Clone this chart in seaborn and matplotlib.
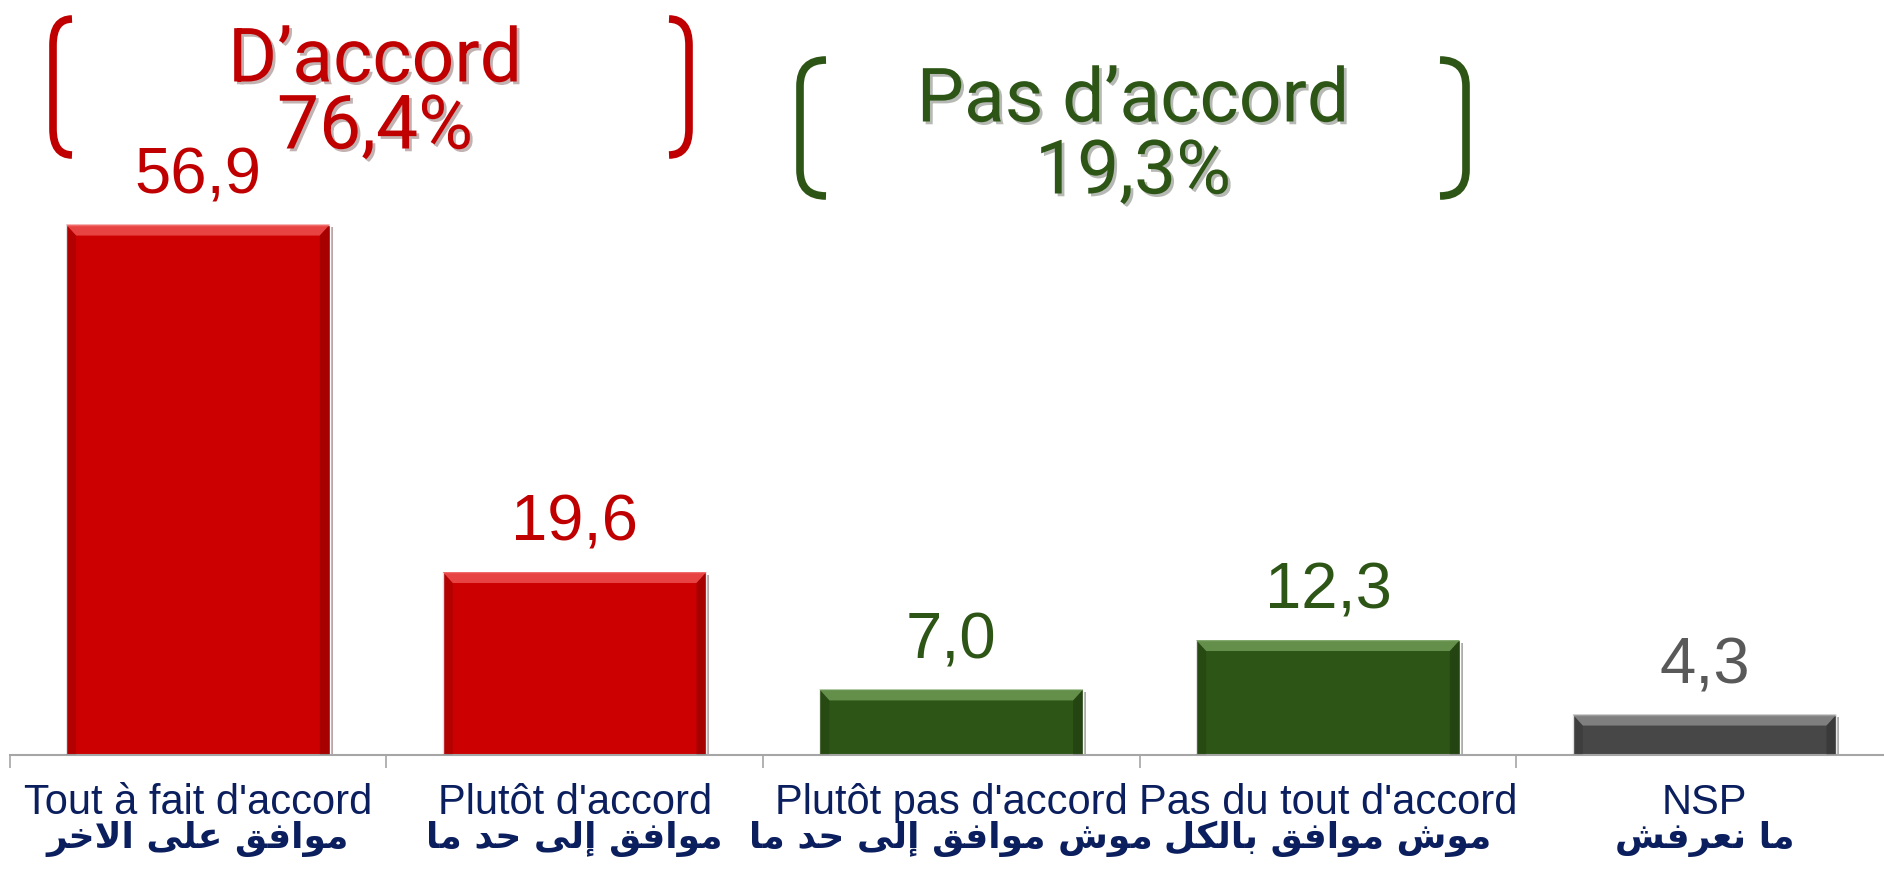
import matplotlib
matplotlib.use("Agg")
import matplotlib.pyplot as plt
import matplotlib.patheffects as pe
import matplotlib.transforms as mtransforms
from matplotlib.path import Path
from matplotlib.patches import PathPatch, Polygon
from matplotlib import font_manager
import seaborn as sns
import pandas as pd
import numpy as np

# ---- data ----
labels_fr = ["Tout à fait d'accord", "Plutôt d'accord", "Plutôt pas d'accord",
             "Pas du tout d'accord", "NSP"]
labels_ar = ["موافق على الاخر", "موافق إلى حد ما", "موش موافق إلى حد ما",
             "موش موافق بالكل", "ما نعرفش"]
values = [56.9, 19.6, 7.0, 12.3, 4.3]
value_text = ["56,9", "19,6", "7,0", "12,3", "4,3"]
groups = ["accord", "accord", "pas_accord", "pas_accord", "nsp"]
summary_titles = ["D’accord", "Pas d’accord"]
summary_values = ["76,4%", "19,3%"]

bar_colors = {"accord": "#CC0000", "pas_accord": "#2D5516", "nsp": "#474747"}
light_colors = {"accord": "#EE5050", "pas_accord": "#6E9A55", "nsp": "#8A8A8A"}
text_colors = {"accord": "#C00000", "pas_accord": "#2D5516", "nsp": "#595959"}
navy = "#0B1F5E"

available = {f.name for f in font_manager.fontManager.ttflist}
narrow = "Liberation Sans Narrow" if "Liberation Sans Narrow" in available else "Liberation Sans"

# ---- minimal arabic shaping (matplotlib draws glyphs left to right) ----
AR_FORMS = {
    'ا': ('\uFE8D', '\uFE8E', None, None),
    'إ': ('\uFE87', '\uFE88', None, None),
    'ب': ('\uFE8F', '\uFE90', '\uFE91', '\uFE92'),
    'ح': ('\uFEA1', '\uFEA2', '\uFEA3', '\uFEA4'),
    'خ': ('\uFEA5', '\uFEA6', '\uFEA7', '\uFEA8'),
    'د': ('\uFEA9', '\uFEAA', None, None),
    'ر': ('\uFEAD', '\uFEAE', None, None),
    'ش': ('\uFEB5', '\uFEB6', '\uFEB7', '\uFEB8'),
    'ع': ('\uFEC9', '\uFECA', '\uFECB', '\uFECC'),
    'ف': ('\uFED1', '\uFED2', '\uFED3', '\uFED4'),
    'ق': ('\uFED5', '\uFED6', '\uFED7', '\uFED8'),
    'ك': ('\uFED9', '\uFEDA', '\uFEDB', '\uFEDC'),
    'ل': ('\uFEDD', '\uFEDE', '\uFEDF', '\uFEE0'),
    'م': ('\uFEE1', '\uFEE2', '\uFEE3', '\uFEE4'),
    'ن': ('\uFEE5', '\uFEE6', '\uFEE7', '\uFEE8'),
    'و': ('\uFEED', '\uFEEE', None, None),
    'ى': ('\uFEEF', '\uFEF0', None, None),
}
LAM_ALEF = {'ا': ('\uFEFB', '\uFEFC'), 'إ': ('\uFEF9', '\uFEFA')}


def shape_word(word):
    tokens = []
    i = 0
    while i < len(word):
        if word[i] == 'ل' and i + 1 < len(word) and word[i + 1] in LAM_ALEF:
            tokens.append(('LA', word[i + 1]))
            i += 2
        else:
            tokens.append(('C', word[i]))
            i += 1

    def dual(tok):
        return tok[0] == 'C' and AR_FORMS[tok[1]][2] is not None

    out = []
    for k, tok in enumerate(tokens):
        prev_join = k > 0 and dual(tokens[k - 1])
        if tok[0] == 'LA':
            out.append(LAM_ALEF[tok[1]][1 if prev_join else 0])
            continue
        iso, fin, ini, med = AR_FORMS[tok[1]]
        next_join = k + 1 < len(tokens) and dual(tok)
        if prev_join and next_join:
            out.append(med)
        elif prev_join:
            out.append(fin)
        elif next_join:
            out.append(ini)
        else:
            out.append(iso)
    return ''.join(out)


def arabic_visual(text):
    shaped = ' '.join(shape_word(w) for w in text.split(' '))
    return shaped[::-1]


df = pd.DataFrame({"label": labels_fr, "value": values, "group": groups})

sns.set_theme(style="white")
plt.rcParams['font.family'] = ['Liberation Sans', 'DejaVu Sans']

fig = plt.figure(figsize=(18.84, 8.71), dpi=100)
ax = fig.add_axes([9.6 / 1884, 116.4 / 871, 1883.4 / 1884, 754.6 / 871])

sns.barplot(data=df, x="label", y="value", hue="group", palette=bar_colors,
            dodge=False, width=0.70, saturation=1, legend=False, ax=ax)

ax.set_ylim(0, 81.0)
ax.set_xlim(-0.5, 4.5)

# bevel look: lighter top strip, darker sides and drop shadow, built from the bar geometry
px_x = 1 / 376.7
px_y = 1 / 9.3
for patch, grp in zip(ax.patches, groups):
    x0 = patch.get_x()
    w = patch.get_width()
    top = patch.get_height()
    patch.set_path_effects([pe.SimplePatchShadow(offset=(2, -2), alpha=0.35), pe.Normal()])
    band = 11 * px_y
    d = 10 * px_x
    ax.add_patch(Polygon([(x0, top), (x0 + w, top), (x0 + w - d, top - band), (x0 + d, top - band)],
                         closed=True, facecolor=light_colors[grp], alpha=0.85,
                         edgecolor='none', zorder=3))
    ax.add_patch(Polygon([(x0, top), (x0 + d, top - band), (x0 + d, 0), (x0, 0)],
                         closed=True, facecolor='black', alpha=0.12, edgecolor='none', zorder=3))
    ax.add_patch(Polygon([(x0 + w, top), (x0 + w - d, top - band), (x0 + w - d, 0), (x0 + w, 0)],
                         closed=True, facecolor='black', alpha=0.18, edgecolor='none', zorder=3))

# value labels
for i, (v, txt, grp) in enumerate(zip(values, value_text, groups)):
    ax.annotate(txt, (i, v), xytext=(0, 13), textcoords="offset points",
                ha="center", va="bottom", fontsize=47, color=text_colors[grp])

# axis styling
sns.despine(ax=ax, left=True)
ax.spines['bottom'].set_color('#A6A6A6')
ax.spines['bottom'].set_linewidth(1.5)
ax.set_yticks([])
ax.set_ylabel("")
ax.set_xlabel("")
ax.set_xticks(range(len(labels_fr)))
ax.set_xticklabels([])
ax.set_xticks(np.arange(-0.5, len(labels_fr), 1), minor=True)
ax.tick_params(axis='x', which='major', length=0)
ax.tick_params(axis='x', which='minor', length=9, width=1.2, color='#A6A6A6',
               direction='out', bottom=True)

xform = ax.get_xaxis_transform()
for i, (fr, ar) in enumerate(zip(labels_fr, labels_ar)):
    ax.text(i, -0.064, fr, transform=xform, ha='center', va='center',
            fontsize=30, color=navy, family=[narrow, 'DejaVu Sans'])
    ax.text(i, -0.112, arabic_visual(ar), transform=xform, ha='center', va='center',
            fontsize=26, fontweight='bold', color=navy, family=['DejaVu Sans'])

# summary brackets and totals (pixel positions from top-left)
px = mtransforms.Affine2D().scale(1 / 1884, -1 / 871).translate(0, 1) + fig.transFigure


def bracket(x_out, x_in, y_top, y_bot, color, r=26):
    verts = [(x_in, y_top), (x_out, y_top), (x_out, y_top + r),
             (x_out, y_bot - r), (x_out, y_bot), (x_in, y_bot)]
    codes = [Path.MOVETO, Path.CURVE3, Path.CURVE3, Path.LINETO, Path.CURVE3, Path.CURVE3]
    fig.add_artist(PathPatch(Path(verts, codes), transform=px, fill=False,
                             edgecolor=color, linewidth=5.5, capstyle='butt'))


summary_colors = [text_colors["accord"], text_colors["pas_accord"]]
summary_boxes = [(53, 68, 673, 689, 19, 155), (800, 822, 1444, 1466, 60, 196)]
summary_centers = [(375, 61, 128), (1133, 101, 173)]
shadow = [pe.SimplePatchShadow(offset=(2, -2), alpha=0.3), pe.Normal()]

for title, total, color, box, ctr in zip(summary_titles, summary_values,
                                          summary_colors, summary_boxes, summary_centers):
    lo, li, ri, ro, yt, yb = box
    bracket(lo, li + 4, yt, yb, color)
    bracket(ro, ri - 4, yt, yb, color)
    cx, y1, y2 = ctr
    fig.text(cx / 1884, 1 - y1 / 871, title, ha='center', va='center', fontsize=54,
             color=color, family=['Roboto', 'DejaVu Sans'], fontweight='normal',
             path_effects=shadow)
    fig.text(cx / 1884, 1 - y2 / 871, total, ha='center', va='center', fontsize=54,
             color=color, family=['Roboto', 'DejaVu Sans'], fontweight='normal',
             path_effects=shadow)

fig.savefig("out.png", dpi=100)
